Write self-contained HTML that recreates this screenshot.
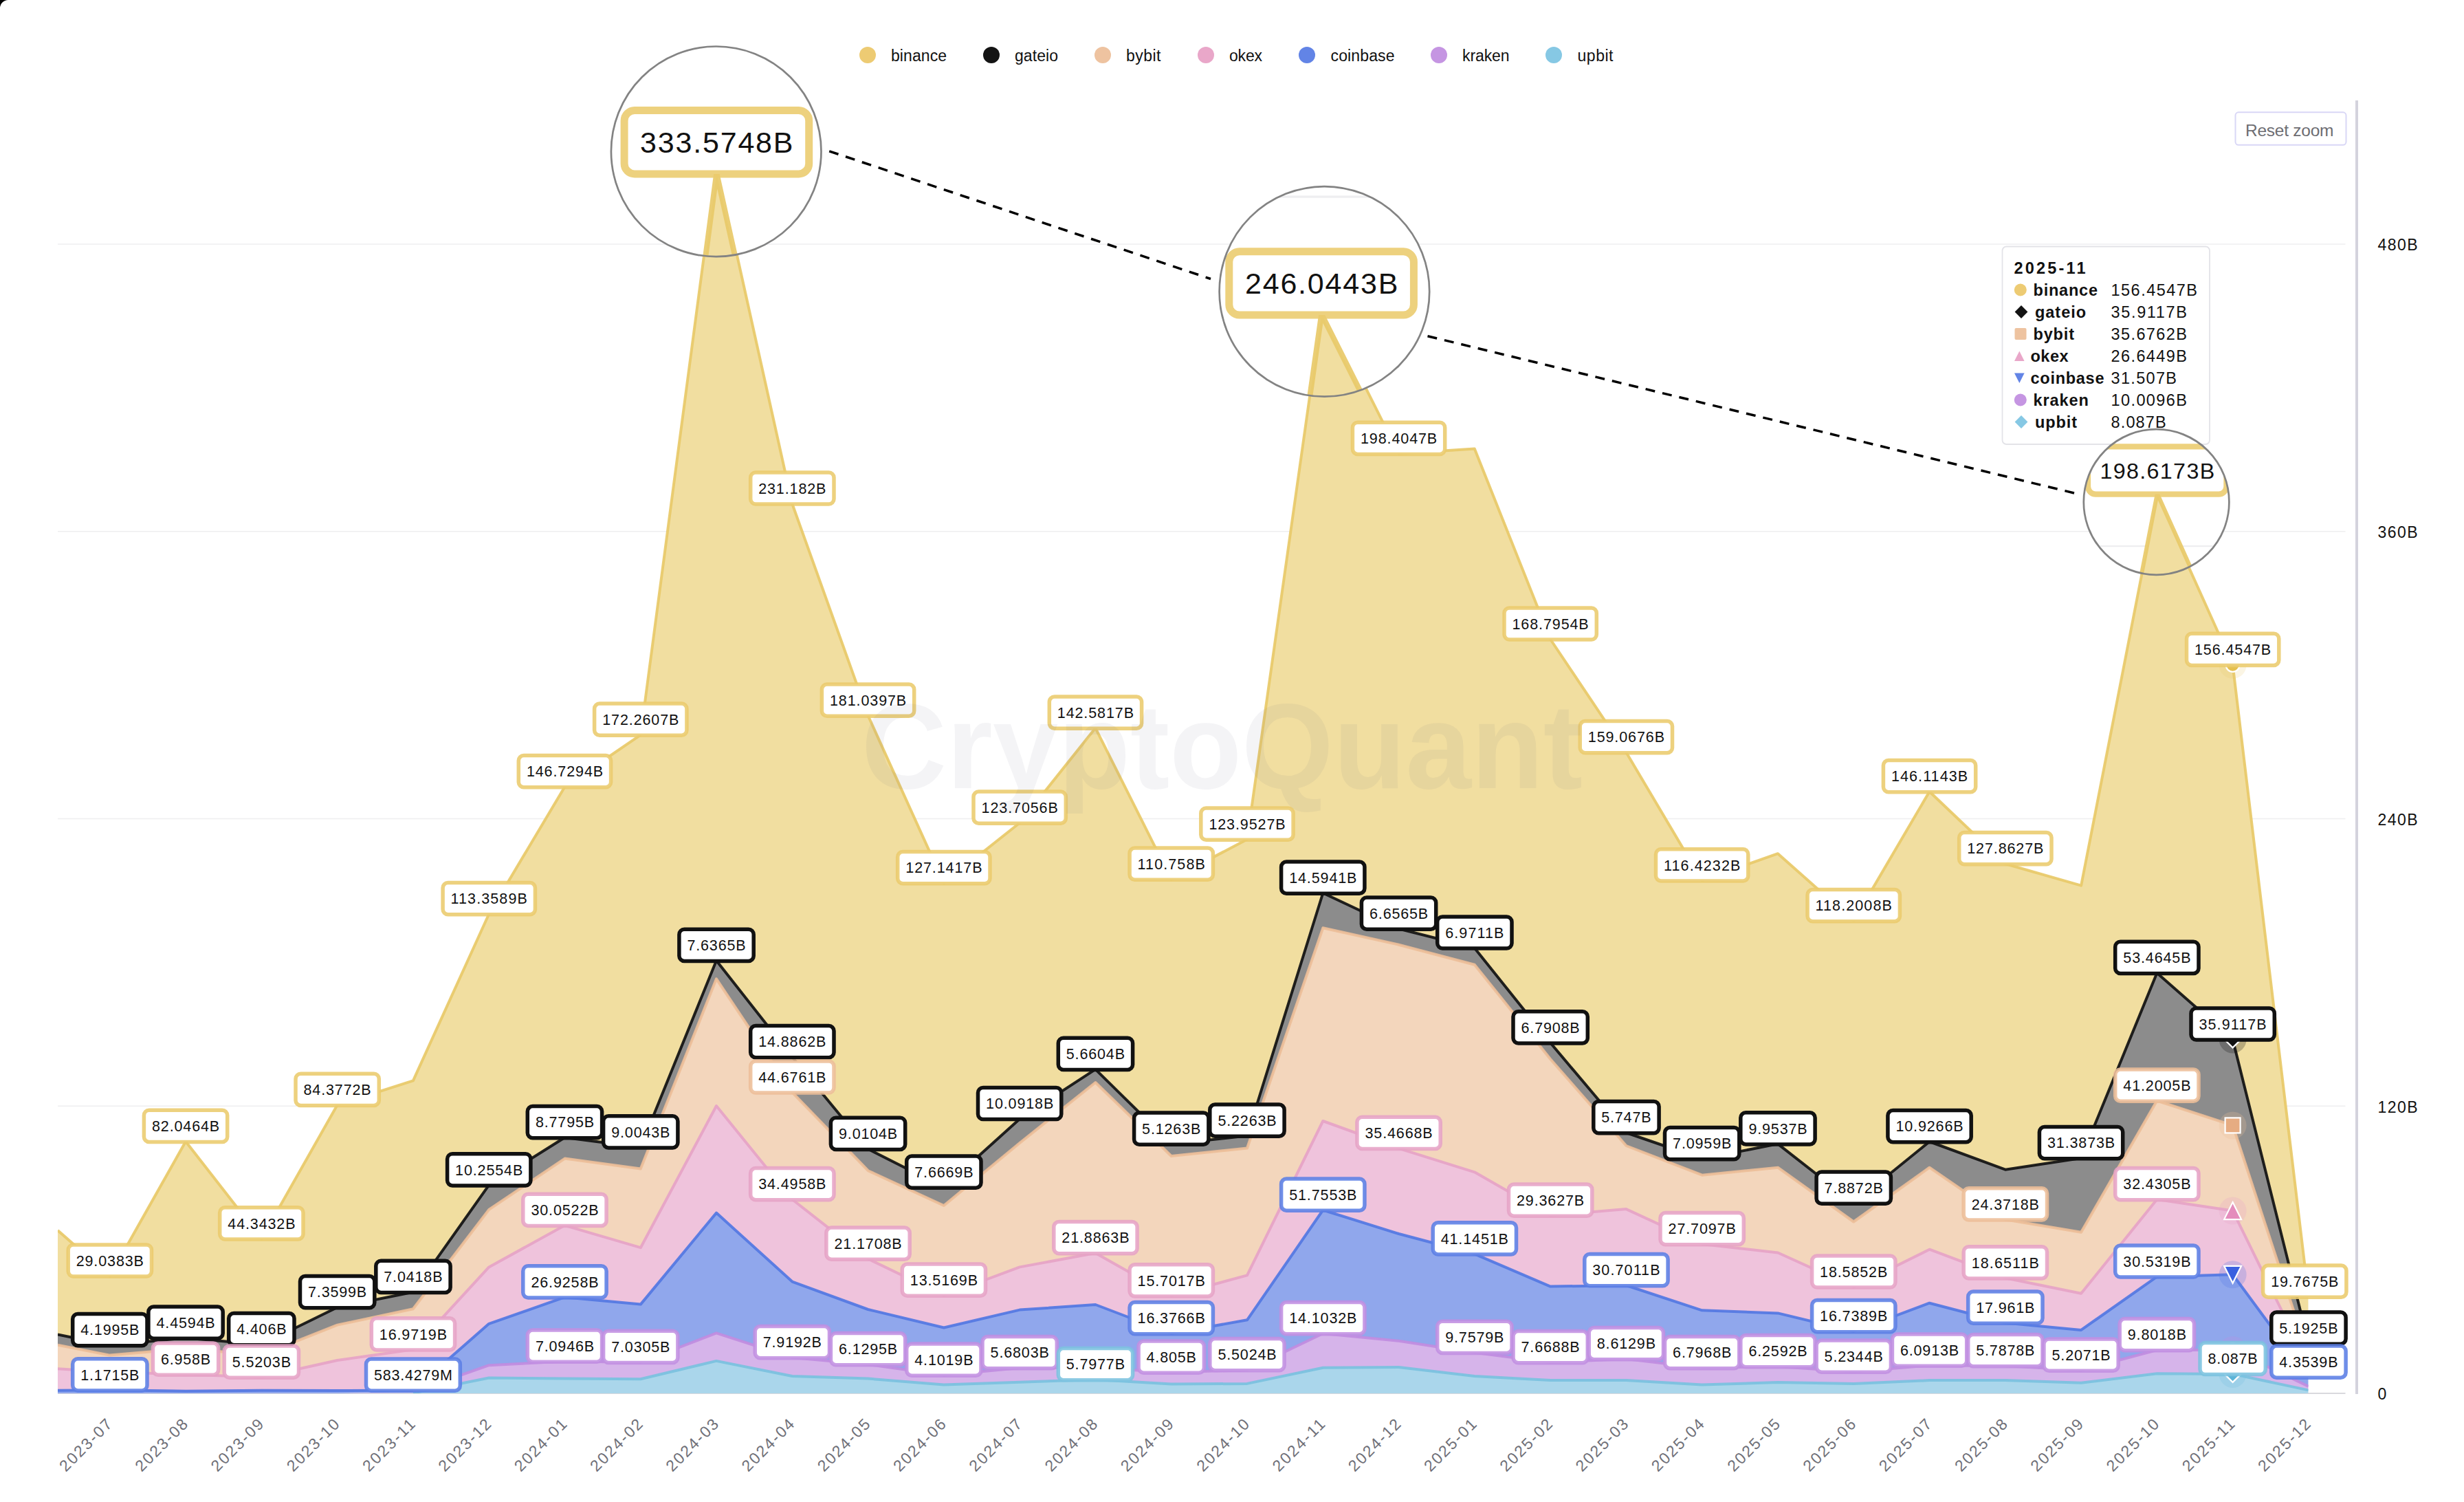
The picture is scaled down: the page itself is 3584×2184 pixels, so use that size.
<!DOCTYPE html>
<html lang="en"><head><meta charset="utf-8"><title>Exchange reserve chart</title>
<style>html,body{margin:0;padding:0;background:#fff}svg{display:block}text{font-family:"Liberation Sans",sans-serif}</style></head><body>
<svg width="3584" height="2184" viewBox="0 0 3584 2184">
<defs>
<clipPath id="plotclip"><rect x="84.0" y="100" width="3273.5" height="1926.0"/></clipPath>
<g id="chart">
<line x1="84.0" x2="3411.5" y1="355" y2="355" stroke="#eeeef0" stroke-width="1.6"/>
<line x1="84.0" x2="3411.5" y1="772.75" y2="772.75" stroke="#eeeef0" stroke-width="1.6"/>
<line x1="84.0" x2="3411.5" y1="1190.5" y2="1190.5" stroke="#eeeef0" stroke-width="1.6"/>
<line x1="84.0" x2="3411.5" y1="1608.25" y2="1608.25" stroke="#eeeef0" stroke-width="1.6"/>
<line x1="84.0" x2="3411.5" y1="2026.0" y2="2026.0" stroke="#d9d9de" stroke-width="2"/>
<g clip-path="url(#plotclip)">
<polygon fill="#F1DEA0" points="84,1789 159.8,1855.4 270.1,1659.8 380.4,1801.2 490.6,1606.7 600.9,1571.4 711.2,1329 821.5,1144 931.8,1068.6 1042,236 1152.3,732.5 1262.6,1040.5 1372.9,1284 1483.2,1196.5 1593.4,1058.6 1703.7,1278.5 1814,1220.5 1924.3,440.3 2034.6,659.8 2144.8,652.5 2255.1,929.5 2365.4,1094 2475.7,1280.2 2586,1241.2 2696.2,1339 2806.5,1151 2916.8,1256 3027.1,1287.7 3137.4,721.8 3247.6,966.8 3357.9,1885.5 3357.9,1953.5 3247.6,1511.4 3137.4,1414.7 3027.1,1684 2916.8,1700.7 2806.5,1660 2696.2,1749.5 2586,1663.3 2475.7,1685 2365.4,1647 2255.1,1516.3 2144.8,1378.4 2034.6,1350.5 1924.3,1298.5 1814,1651.5 1703.7,1663.5 1593.4,1554.8 1483.2,1626.9 1372.9,1726.5 1262.6,1670.8 1152.3,1537 1042,1396.7 931.8,1668.3 821.5,1654 711.2,1723.2 600.9,1878.8 490.6,1901 380.4,1955 270.1,1945.5 159.8,1956 84,1940.5"/>
<polyline fill="none" stroke="#E8C968" stroke-width="4" stroke-linejoin="round" stroke-opacity="0.92" points="84,1789 159.8,1855.4 270.1,1659.8 380.4,1801.2 490.6,1606.7 600.9,1571.4 711.2,1329 821.5,1144 931.8,1068.6 1042,236 1152.3,732.5 1262.6,1040.5 1372.9,1284 1483.2,1196.5 1593.4,1058.6 1703.7,1278.5 1814,1220.5 1924.3,440.3 2034.6,659.8 2144.8,652.5 2255.1,929.5 2365.4,1094 2475.7,1280.2 2586,1241.2 2696.2,1339 2806.5,1151 2916.8,1256 3027.1,1287.7 3137.4,721.8 3247.6,966.8 3357.9,1885.5"/>
<polygon fill="#8C8C8C" points="84,1940.5 159.8,1956 270.1,1945.5 380.4,1955 490.6,1901 600.9,1878.8 711.2,1723.2 821.5,1654 931.8,1668.3 1042,1396.7 1152.3,1537 1262.6,1670.8 1372.9,1726.5 1483.2,1626.9 1593.4,1554.8 1703.7,1663.5 1814,1651.5 1924.3,1298.5 2034.6,1350.5 2144.8,1378.4 2255.1,1516.3 2365.4,1647 2475.7,1685 2586,1663.3 2696.2,1749.5 2806.5,1660 2916.8,1700.7 3027.1,1684 3137.4,1414.7 3247.6,1511.4 3357.9,1953.5 3357.9,1971.5 3247.6,1636.4 3137.4,1600.5 3027.1,1791.8 2916.8,1773.3 2806.5,1697.7 2696.2,1776.5 2586,1697.7 2475.7,1708.7 2365.4,1666 2255.1,1540 2144.8,1402.7 2034.6,1373.7 1924.3,1349.3 1814,1669.5 1703.7,1681 1593.4,1574 1483.2,1662 1372.9,1753 1262.6,1702.2 1152.3,1588.4 1042,1423.3 931.8,1699.6 821.5,1684.6 711.2,1758.9 600.9,1903.3 490.6,1926.6 380.4,1970.3 270.1,1961 159.8,1970.6 84,1955.8"/>
<polyline fill="none" stroke="#101010" stroke-width="4" stroke-linejoin="round" stroke-opacity="0.92" points="84,1940.5 159.8,1956 270.1,1945.5 380.4,1955 490.6,1901 600.9,1878.8 711.2,1723.2 821.5,1654 931.8,1668.3 1042,1396.7 1152.3,1537 1262.6,1670.8 1372.9,1726.5 1483.2,1626.9 1593.4,1554.8 1703.7,1663.5 1814,1651.5 1924.3,1298.5 2034.6,1350.5 2144.8,1378.4 2255.1,1516.3 2365.4,1647 2475.7,1685 2586,1663.3 2696.2,1749.5 2806.5,1660 2916.8,1700.7 3027.1,1684 3137.4,1414.7 3247.6,1511.4 3357.9,1953.5"/>
<polygon fill="#F3D6BC" points="84,1955.8 159.8,1970.6 270.1,1961 380.4,1970.3 490.6,1926.6 600.9,1903.3 711.2,1758.9 821.5,1684.6 931.8,1699.6 1042,1423.3 1152.3,1588.4 1262.6,1702.2 1372.9,1753 1483.2,1662 1593.4,1574 1703.7,1681 1814,1669.5 1924.3,1349.3 2034.6,1373.7 2144.8,1402.7 2255.1,1540 2365.4,1666 2475.7,1708.7 2586,1697.7 2696.2,1776.5 2806.5,1697.7 2916.8,1773.3 3027.1,1791.8 3137.4,1600.5 3247.6,1636.4 3357.9,1971.5 3357.9,1985 3247.6,1760.6 3137.4,1744 3027.1,1880.8 2916.8,1858.2 2806.5,1816.7 2696.2,1871.4 2586,1821.5 2475.7,1809 2365.4,1758.1 2255.1,1767.5 2144.8,1704.3 2034.6,1669.8 1924.3,1630 1814,1854.4 1703.7,1884.3 1593.4,1822 1483.2,1842.4 1372.9,1883.5 1262.6,1830.5 1152.3,1744 1042,1608 931.8,1814.2 821.5,1781.8 711.2,1842.4 600.9,1962.3 490.6,1978 380.4,2002.5 270.1,1998.5 159.8,1995 84,1990.3"/>
<polyline fill="none" stroke="#EDBE98" stroke-width="4" stroke-linejoin="round" stroke-opacity="0.92" points="84,1955.8 159.8,1970.6 270.1,1961 380.4,1970.3 490.6,1926.6 600.9,1903.3 711.2,1758.9 821.5,1684.6 931.8,1699.6 1042,1423.3 1152.3,1588.4 1262.6,1702.2 1372.9,1753 1483.2,1662 1593.4,1574 1703.7,1681 1814,1669.5 1924.3,1349.3 2034.6,1373.7 2144.8,1402.7 2255.1,1540 2365.4,1666 2475.7,1708.7 2586,1697.7 2696.2,1776.5 2806.5,1697.7 2916.8,1773.3 3027.1,1791.8 3137.4,1600.5 3247.6,1636.4 3357.9,1971.5"/>
<polygon fill="#EFC3DC" points="84,1990.3 159.8,1995 270.1,1998.5 380.4,2002.5 490.6,1978 600.9,1962.3 711.2,1842.4 821.5,1781.8 931.8,1814.2 1042,1608 1152.3,1744 1262.6,1830.5 1372.9,1883.5 1483.2,1842.4 1593.4,1822 1703.7,1884.3 1814,1854.4 1924.3,1630 2034.6,1669.8 2144.8,1704.3 2255.1,1767.5 2365.4,1758.1 2475.7,1809 2586,1821.5 2696.2,1871.4 2806.5,1816.7 2916.8,1858.2 3027.1,1880.8 3137.4,1744 3247.6,1760.6 3357.9,1985 3357.9,2002.6 3247.6,1853.3 3137.4,1856.4 3027.1,1933.9 2916.8,1923.5 2806.5,1894.7 2696.2,1936 2586,1909.4 2475.7,1905.3 2365.4,1869 2255.1,1870.6 2144.8,1823.3 2034.6,1794 1924.3,1759.5 1814,1919.3 1703.7,1939 1593.4,1897 1483.2,1904.6 1372.9,1930.5 1262.6,1904 1152.3,1863.6 1042,1763.6 931.8,1896.6 821.5,1886.2 711.2,1924.8 600.9,2021.6 490.6,2022 380.4,2021.7 270.1,2022.7 159.8,2021.3 84,2021.8"/>
<polyline fill="none" stroke="#E6A3C6" stroke-width="4" stroke-linejoin="round" stroke-opacity="0.92" points="84,1990.3 159.8,1995 270.1,1998.5 380.4,2002.5 490.6,1978 600.9,1962.3 711.2,1842.4 821.5,1781.8 931.8,1814.2 1042,1608 1152.3,1744 1262.6,1830.5 1372.9,1883.5 1483.2,1842.4 1593.4,1822 1703.7,1884.3 1814,1854.4 1924.3,1630 2034.6,1669.8 2144.8,1704.3 2255.1,1767.5 2365.4,1758.1 2475.7,1809 2586,1821.5 2696.2,1871.4 2806.5,1816.7 2916.8,1858.2 3027.1,1880.8 3137.4,1744 3247.6,1760.6 3357.9,1985"/>
<polygon fill="#90A7EC" points="84,2021.8 159.8,2021.3 270.1,2022.7 380.4,2021.7 490.6,2022 600.9,2021.6 711.2,1924.8 821.5,1886.2 931.8,1896.6 1042,1763.6 1152.3,1863.6 1262.6,1904 1372.9,1930.5 1483.2,1904.6 1593.4,1897 1703.7,1939 1814,1919.3 1924.3,1759.5 2034.6,1794 2144.8,1823.3 2255.1,1870.6 2365.4,1869 2475.7,1905.3 2586,1909.4 2696.2,1936 2806.5,1894.7 2916.8,1923.5 3027.1,1933.9 3137.4,1856.4 3247.6,1853.3 3357.9,2002.6 3357.9,2016 3247.6,1963 3137.4,1963 3027.1,1992.5 2916.8,1986 2806.5,1985.5 2696.2,1994.5 2586,1987 2475.7,1989 2365.4,1976 2255.1,1981 2144.8,1966.8 2034.6,1949.7 1924.3,1939 1814,1992 1703.7,1995.5 1593.4,1988.8 1483.2,1989 1372.9,1999.5 1262.6,1984 1152.3,1974 1042,1938.3 931.8,1980.7 821.5,1979.6 711.2,1985.2 600.9,2024 490.6,2026 380.4,2026 270.1,2026 159.8,2026 84,2026"/>
<polyline fill="none" stroke="#5277E2" stroke-width="4" stroke-linejoin="round" stroke-opacity="0.92" points="84,2021.8 159.8,2021.3 270.1,2022.7 380.4,2021.7 490.6,2022 600.9,2021.6 711.2,1924.8 821.5,1886.2 931.8,1896.6 1042,1763.6 1152.3,1863.6 1262.6,1904 1372.9,1930.5 1483.2,1904.6 1593.4,1897 1703.7,1939 1814,1919.3 1924.3,1759.5 2034.6,1794 2144.8,1823.3 2255.1,1870.6 2365.4,1869 2475.7,1905.3 2586,1909.4 2696.2,1936 2806.5,1894.7 2916.8,1923.5 3027.1,1933.9 3137.4,1856.4 3247.6,1853.3 3357.9,2002.6"/>
<polygon fill="#D6B4EA" points="84,2026 159.8,2026 270.1,2026 380.4,2026 490.6,2026 600.9,2024 711.2,1985.2 821.5,1979.6 931.8,1980.7 1042,1938.3 1152.3,1974 1262.6,1984 1372.9,1999.5 1483.2,1989 1593.4,1988.8 1703.7,1995.5 1814,1992 1924.3,1939 2034.6,1949.7 2144.8,1966.8 2255.1,1981 2365.4,1976 2475.7,1989 2586,1987 2696.2,1994.5 2806.5,1985.5 2916.8,1986 3027.1,1992.5 3137.4,1963 3247.6,1963 3357.9,2016 3357.9,2021.4 3247.6,1997.9 3137.4,1997.3 3027.1,2010.8 2916.8,2007.1 2806.5,2007.1 2696.2,2011.9 2586,2010.1 2475.7,2013.4 2365.4,2007.1 2255.1,2007.1 2144.8,2000.9 2034.6,1988.1 1924.3,1988.8 1814,2011.9 1703.7,2012.6 1593.4,2006 1483.2,2009.7 1372.9,2013.4 1262.6,2004.6 1152.3,2001 1042,1978.9 931.8,2005.3 821.5,2004.4 711.2,2003.5 600.9,2025.6 490.6,2026 380.4,2026 270.1,2026 159.8,2026 84,2026"/>
<polyline fill="none" stroke="#C08CE0" stroke-width="4" stroke-linejoin="round" stroke-opacity="0.92" points="600.9,2024 711.2,1985.2 821.5,1979.6 931.8,1980.7 1042,1938.3 1152.3,1974 1262.6,1984 1372.9,1999.5 1483.2,1989 1593.4,1988.8 1703.7,1995.5 1814,1992 1924.3,1939 2034.6,1949.7 2144.8,1966.8 2255.1,1981 2365.4,1976 2475.7,1989 2586,1987 2696.2,1994.5 2806.5,1985.5 2916.8,1986 3027.1,1992.5 3137.4,1963 3247.6,1963 3357.9,2016"/>
<polygon fill="#AAD6EB" points="84,2026 159.8,2026 270.1,2026 380.4,2026 490.6,2026 600.9,2025.6 711.2,2003.5 821.5,2004.4 931.8,2005.3 1042,1978.9 1152.3,2001 1262.6,2004.6 1372.9,2013.4 1483.2,2009.7 1593.4,2006 1703.7,2012.6 1814,2011.9 1924.3,1988.8 2034.6,1988.1 2144.8,2000.9 2255.1,2007.1 2365.4,2007.1 2475.7,2013.4 2586,2010.1 2696.2,2011.9 2806.5,2007.1 2916.8,2007.1 3027.1,2010.8 3137.4,1997.3 3247.6,1997.9 3357.9,2021.4 3357.9,2026 3247.6,2026 3137.4,2026 3027.1,2026 2916.8,2026 2806.5,2026 2696.2,2026 2586,2026 2475.7,2026 2365.4,2026 2255.1,2026 2144.8,2026 2034.6,2026 1924.3,2026 1814,2026 1703.7,2026 1593.4,2026 1483.2,2026 1372.9,2026 1262.6,2026 1152.3,2026 1042,2026 931.8,2026 821.5,2026 711.2,2026 600.9,2026 490.6,2026 380.4,2026 270.1,2026 159.8,2026 84,2026"/>
<polyline fill="none" stroke="#79C1DE" stroke-width="4" stroke-linejoin="round" stroke-opacity="0.92" points="600.9,2025.6 711.2,2003.5 821.5,2004.4 931.8,2005.3 1042,1978.9 1152.3,2001 1262.6,2004.6 1372.9,2013.4 1483.2,2009.7 1593.4,2006 1703.7,2012.6 1814,2011.9 1924.3,1988.8 2034.6,1988.1 2144.8,2000.9 2255.1,2007.1 2365.4,2007.1 2475.7,2013.4 2586,2010.1 2696.2,2011.9 2806.5,2007.1 2916.8,2007.1 3027.1,2010.8 3137.4,1997.3 3247.6,1997.9 3357.9,2021.4"/>
</g>
<circle cx="3247.6" cy="966.8" r="20" fill="#E8C968" fill-opacity="0.18"/>
<circle cx="3247.6" cy="966.8" r="10" fill="#E5C050" stroke="#fff" stroke-width="2.2" stroke-linejoin="miter"/>
<circle cx="3247.6" cy="1511.4" r="20" fill="#101010" fill-opacity="0.25"/>
<path d="M3247.6,1499.4 L3259.6,1511.4 L3247.6,1523.4 L3235.6,1511.4 Z" fill="#111111" stroke="#fff" stroke-width="2.2" stroke-linejoin="miter"/>
<circle cx="3247.6" cy="1636.4" r="20" fill="#EDBE98" fill-opacity="0.25"/>
<rect x="3236.6" y="1625.4" width="22" height="22" fill="#E6AC82" stroke="#fff" stroke-width="2.2" stroke-linejoin="miter"/>
<circle cx="3247.6" cy="1760.6" r="20" fill="#E6A3C6" fill-opacity="0.25"/>
<path d="M3247.6,1748.1 L3260.1,1773.1 L3235.1,1773.1 Z" fill="#E48CBC" stroke="#fff" stroke-width="2.2" stroke-linejoin="miter"/>
<circle cx="3247.6" cy="1853.3" r="20" fill="#5277E2" fill-opacity="0.25"/>
<path d="M3235.1,1840.8 L3260.1,1840.8 L3247.6,1865.8 Z" fill="#3A60E0" stroke="#fff" stroke-width="2.2" stroke-linejoin="miter"/>
<circle cx="3247.6" cy="1963" r="20" fill="#C08CE0" fill-opacity="0.25"/>
<circle cx="3247.6" cy="1963" r="10" fill="#B678DC" stroke="#fff" stroke-width="2.2" stroke-linejoin="miter"/>
<circle cx="3247.6" cy="1997.9" r="20" fill="#79C1DE" fill-opacity="0.25"/>
<path d="M3247.6,1985.9 L3259.6,1997.9 L3247.6,2009.9 L3235.6,1997.9 Z" fill="#5CB4D8" stroke="#fff" stroke-width="2.2" stroke-linejoin="miter"/>
<rect x="99.2" y="1809.9" width="121.3" height="46.2" rx="7.5" fill="#fff" stroke="#EACB6C" stroke-width="5.5" stroke-opacity="0.88"/>
<text x="110.7" y="1840.8" font-size="21.5" fill="#111" textLength="98.2" lengthAdjust="spacing">29.0383B</text>
<rect x="209.4" y="1614.2" width="121.3" height="46.2" rx="7.5" fill="#fff" stroke="#EACB6C" stroke-width="5.5" stroke-opacity="0.88"/>
<text x="221" y="1645.2" font-size="21.5" fill="#111" textLength="98.2" lengthAdjust="spacing">82.0464B</text>
<rect x="319.7" y="1755.7" width="121.3" height="46.2" rx="7.5" fill="#fff" stroke="#EACB6C" stroke-width="5.5" stroke-opacity="0.88"/>
<text x="331.3" y="1786.6" font-size="21.5" fill="#111" textLength="98.2" lengthAdjust="spacing">44.3432B</text>
<rect x="430" y="1561.2" width="121.3" height="46.2" rx="7.5" fill="#fff" stroke="#EACB6C" stroke-width="5.5" stroke-opacity="0.88"/>
<text x="441.5" y="1592.1" font-size="21.5" fill="#111" textLength="98.2" lengthAdjust="spacing">84.3772B</text>
<rect x="644.1" y="1283.5" width="134.3" height="46.2" rx="7.5" fill="#fff" stroke="#EACB6C" stroke-width="5.5" stroke-opacity="0.88"/>
<text x="655.6" y="1314.4" font-size="21.5" fill="#111" textLength="111.2" lengthAdjust="spacing">113.3589B</text>
<rect x="754.3" y="1098.5" width="134.3" height="46.2" rx="7.5" fill="#fff" stroke="#EACB6C" stroke-width="5.5" stroke-opacity="0.88"/>
<text x="765.9" y="1129.4" font-size="21.5" fill="#111" textLength="111.2" lengthAdjust="spacing">146.7294B</text>
<rect x="864.6" y="1023" width="134.3" height="46.2" rx="7.5" fill="#fff" stroke="#EACB6C" stroke-width="5.5" stroke-opacity="0.88"/>
<text x="876.2" y="1054" font-size="21.5" fill="#111" textLength="111.2" lengthAdjust="spacing">172.2607B</text>
<rect x="974.9" y="190.4" width="134.3" height="46.2" rx="7.5" fill="#fff" stroke="#EACB6C" stroke-width="5.5" stroke-opacity="0.88"/>
<text x="986.4" y="221.4" font-size="21.5" fill="#111" textLength="111.2" lengthAdjust="spacing">333.5748B</text>
<rect x="1091.7" y="686.9" width="121.3" height="46.2" rx="7.5" fill="#fff" stroke="#EACB6C" stroke-width="5.5" stroke-opacity="0.88"/>
<text x="1103.2" y="717.9" font-size="21.5" fill="#111" textLength="98.2" lengthAdjust="spacing">231.182B</text>
<rect x="1195.4" y="995" width="134.3" height="46.2" rx="7.5" fill="#fff" stroke="#EACB6C" stroke-width="5.5" stroke-opacity="0.88"/>
<text x="1207" y="1025.9" font-size="21.5" fill="#111" textLength="111.2" lengthAdjust="spacing">181.0397B</text>
<rect x="1305.7" y="1238.5" width="134.3" height="46.2" rx="7.5" fill="#fff" stroke="#EACB6C" stroke-width="5.5" stroke-opacity="0.88"/>
<text x="1317.3" y="1269.4" font-size="21.5" fill="#111" textLength="111.2" lengthAdjust="spacing">127.1417B</text>
<rect x="1416" y="1151" width="134.3" height="46.2" rx="7.5" fill="#fff" stroke="#EACB6C" stroke-width="5.5" stroke-opacity="0.88"/>
<text x="1427.6" y="1181.9" font-size="21.5" fill="#111" textLength="111.2" lengthAdjust="spacing">123.7056B</text>
<rect x="1526.3" y="1013" width="134.3" height="46.2" rx="7.5" fill="#fff" stroke="#EACB6C" stroke-width="5.5" stroke-opacity="0.88"/>
<text x="1537.8" y="1044" font-size="21.5" fill="#111" textLength="111.2" lengthAdjust="spacing">142.5817B</text>
<rect x="1643.1" y="1233" width="121.3" height="46.2" rx="7.5" fill="#fff" stroke="#EACB6C" stroke-width="5.5" stroke-opacity="0.88"/>
<text x="1654.6" y="1263.9" font-size="21.5" fill="#111" textLength="98.2" lengthAdjust="spacing">110.758B</text>
<rect x="1746.8" y="1175" width="134.3" height="46.2" rx="7.5" fill="#fff" stroke="#EACB6C" stroke-width="5.5" stroke-opacity="0.88"/>
<text x="1758.4" y="1205.9" font-size="21.5" fill="#111" textLength="111.2" lengthAdjust="spacing">123.9527B</text>
<rect x="1857.1" y="394.8" width="134.3" height="46.2" rx="7.5" fill="#fff" stroke="#EACB6C" stroke-width="5.5" stroke-opacity="0.88"/>
<text x="1868.7" y="425.7" font-size="21.5" fill="#111" textLength="111.2" lengthAdjust="spacing">246.0443B</text>
<rect x="1967.4" y="614.2" width="134.3" height="46.2" rx="7.5" fill="#fff" stroke="#EACB6C" stroke-width="5.5" stroke-opacity="0.88"/>
<text x="1979" y="645.2" font-size="21.5" fill="#111" textLength="111.2" lengthAdjust="spacing">198.4047B</text>
<rect x="2188" y="883.9" width="134.3" height="46.2" rx="7.5" fill="#fff" stroke="#EACB6C" stroke-width="5.5" stroke-opacity="0.88"/>
<text x="2199.5" y="914.9" font-size="21.5" fill="#111" textLength="111.2" lengthAdjust="spacing">168.7954B</text>
<rect x="2298.2" y="1048.5" width="134.3" height="46.2" rx="7.5" fill="#fff" stroke="#EACB6C" stroke-width="5.5" stroke-opacity="0.88"/>
<text x="2309.8" y="1079.4" font-size="21.5" fill="#111" textLength="111.2" lengthAdjust="spacing">159.0676B</text>
<rect x="2408.5" y="1234.7" width="134.3" height="46.2" rx="7.5" fill="#fff" stroke="#EACB6C" stroke-width="5.5" stroke-opacity="0.88"/>
<text x="2420.1" y="1265.6" font-size="21.5" fill="#111" textLength="111.2" lengthAdjust="spacing">116.4232B</text>
<rect x="2629.1" y="1293.5" width="134.3" height="46.2" rx="7.5" fill="#fff" stroke="#EACB6C" stroke-width="5.5" stroke-opacity="0.88"/>
<text x="2640.6" y="1324.4" font-size="21.5" fill="#111" textLength="111.2" lengthAdjust="spacing">118.2008B</text>
<rect x="2739.4" y="1105.5" width="134.3" height="46.2" rx="7.5" fill="#fff" stroke="#EACB6C" stroke-width="5.5" stroke-opacity="0.88"/>
<text x="2750.9" y="1136.4" font-size="21.5" fill="#111" textLength="111.2" lengthAdjust="spacing">146.1143B</text>
<rect x="2849.7" y="1210.5" width="134.3" height="46.2" rx="7.5" fill="#fff" stroke="#EACB6C" stroke-width="5.5" stroke-opacity="0.88"/>
<text x="2861.2" y="1241.4" font-size="21.5" fill="#111" textLength="111.2" lengthAdjust="spacing">127.8627B</text>
<rect x="3070.2" y="676.2" width="134.3" height="46.2" rx="7.5" fill="#fff" stroke="#EACB6C" stroke-width="5.5" stroke-opacity="0.88"/>
<text x="3081.8" y="707.2" font-size="21.5" fill="#111" textLength="111.2" lengthAdjust="spacing">198.6173B</text>
<rect x="3180.5" y="921.2" width="134.3" height="46.2" rx="7.5" fill="#fff" stroke="#EACB6C" stroke-width="5.5" stroke-opacity="0.88"/>
<text x="3192" y="952.2" font-size="21.5" fill="#111" textLength="111.2" lengthAdjust="spacing">156.4547B</text>
<rect x="3291.6" y="1840" width="121.3" height="46.2" rx="7.5" fill="#fff" stroke="#EACB6C" stroke-width="5.5" stroke-opacity="0.88"/>
<text x="3303.2" y="1870.9" font-size="21.5" fill="#111" textLength="98.2" lengthAdjust="spacing">19.7675B</text>
<rect x="105.7" y="1910.5" width="108.3" height="46.2" rx="7.5" fill="#fff" stroke="#111111" stroke-width="5.5" stroke-opacity="1"/>
<text x="117.2" y="1941.4" font-size="21.5" fill="#111" textLength="85.2" lengthAdjust="spacing">4.1995B</text>
<rect x="215.9" y="1900" width="108.3" height="46.2" rx="7.5" fill="#fff" stroke="#111111" stroke-width="5.5" stroke-opacity="1"/>
<text x="227.5" y="1930.9" font-size="21.5" fill="#111" textLength="85.2" lengthAdjust="spacing">4.4594B</text>
<rect x="332.7" y="1909.5" width="95.3" height="46.2" rx="7.5" fill="#fff" stroke="#111111" stroke-width="5.5" stroke-opacity="1"/>
<text x="344.3" y="1940.4" font-size="21.5" fill="#111" textLength="72.2" lengthAdjust="spacing">4.406B</text>
<rect x="436.5" y="1855.5" width="108.3" height="46.2" rx="7.5" fill="#fff" stroke="#111111" stroke-width="5.5" stroke-opacity="1"/>
<text x="448" y="1886.4" font-size="21.5" fill="#111" textLength="85.2" lengthAdjust="spacing">7.3599B</text>
<rect x="546.8" y="1833.2" width="108.3" height="46.2" rx="7.5" fill="#fff" stroke="#111111" stroke-width="5.5" stroke-opacity="1"/>
<text x="558.3" y="1864.2" font-size="21.5" fill="#111" textLength="85.2" lengthAdjust="spacing">7.0418B</text>
<rect x="650.6" y="1677.7" width="121.3" height="46.2" rx="7.5" fill="#fff" stroke="#111111" stroke-width="5.5" stroke-opacity="1"/>
<text x="662.1" y="1708.6" font-size="21.5" fill="#111" textLength="98.2" lengthAdjust="spacing">10.2554B</text>
<rect x="767.3" y="1608.5" width="108.3" height="46.2" rx="7.5" fill="#fff" stroke="#111111" stroke-width="5.5" stroke-opacity="1"/>
<text x="778.9" y="1639.4" font-size="21.5" fill="#111" textLength="85.2" lengthAdjust="spacing">8.7795B</text>
<rect x="877.6" y="1622.8" width="108.3" height="46.2" rx="7.5" fill="#fff" stroke="#111111" stroke-width="5.5" stroke-opacity="1"/>
<text x="889.2" y="1653.7" font-size="21.5" fill="#111" textLength="85.2" lengthAdjust="spacing">9.0043B</text>
<rect x="987.9" y="1351.2" width="108.3" height="46.2" rx="7.5" fill="#fff" stroke="#111111" stroke-width="5.5" stroke-opacity="1"/>
<text x="999.4" y="1382.1" font-size="21.5" fill="#111" textLength="85.2" lengthAdjust="spacing">7.6365B</text>
<rect x="1091.7" y="1491.5" width="121.3" height="46.2" rx="7.5" fill="#fff" stroke="#111111" stroke-width="5.5" stroke-opacity="1"/>
<text x="1103.2" y="1522.4" font-size="21.5" fill="#111" textLength="98.2" lengthAdjust="spacing">14.8862B</text>
<rect x="1208.4" y="1625.2" width="108.3" height="46.2" rx="7.5" fill="#fff" stroke="#111111" stroke-width="5.5" stroke-opacity="1"/>
<text x="1220" y="1656.2" font-size="21.5" fill="#111" textLength="85.2" lengthAdjust="spacing">9.0104B</text>
<rect x="1318.7" y="1681" width="108.3" height="46.2" rx="7.5" fill="#fff" stroke="#111111" stroke-width="5.5" stroke-opacity="1"/>
<text x="1330.3" y="1711.9" font-size="21.5" fill="#111" textLength="85.2" lengthAdjust="spacing">7.6669B</text>
<rect x="1422.5" y="1581.4" width="121.3" height="46.2" rx="7.5" fill="#fff" stroke="#111111" stroke-width="5.5" stroke-opacity="1"/>
<text x="1434.1" y="1612.3" font-size="21.5" fill="#111" textLength="98.2" lengthAdjust="spacing">10.0918B</text>
<rect x="1539.3" y="1509.2" width="108.3" height="46.2" rx="7.5" fill="#fff" stroke="#111111" stroke-width="5.5" stroke-opacity="1"/>
<text x="1550.8" y="1540.2" font-size="21.5" fill="#111" textLength="85.2" lengthAdjust="spacing">5.6604B</text>
<rect x="1649.6" y="1618" width="108.3" height="46.2" rx="7.5" fill="#fff" stroke="#111111" stroke-width="5.5" stroke-opacity="1"/>
<text x="1661.1" y="1648.9" font-size="21.5" fill="#111" textLength="85.2" lengthAdjust="spacing">5.1263B</text>
<rect x="1759.8" y="1606" width="108.3" height="46.2" rx="7.5" fill="#fff" stroke="#111111" stroke-width="5.5" stroke-opacity="1"/>
<text x="1771.4" y="1636.9" font-size="21.5" fill="#111" textLength="85.2" lengthAdjust="spacing">5.2263B</text>
<rect x="1863.6" y="1253" width="121.3" height="46.2" rx="7.5" fill="#fff" stroke="#111111" stroke-width="5.5" stroke-opacity="1"/>
<text x="1875.2" y="1283.9" font-size="21.5" fill="#111" textLength="98.2" lengthAdjust="spacing">14.5941B</text>
<rect x="1980.4" y="1305" width="108.3" height="46.2" rx="7.5" fill="#fff" stroke="#111111" stroke-width="5.5" stroke-opacity="1"/>
<text x="1992" y="1335.9" font-size="21.5" fill="#111" textLength="85.2" lengthAdjust="spacing">6.6565B</text>
<rect x="2090.7" y="1332.9" width="108.3" height="46.2" rx="7.5" fill="#fff" stroke="#111111" stroke-width="5.5" stroke-opacity="1"/>
<text x="2102.2" y="1363.8" font-size="21.5" fill="#111" textLength="85.2" lengthAdjust="spacing">6.9711B</text>
<rect x="2201" y="1470.8" width="108.3" height="46.2" rx="7.5" fill="#fff" stroke="#111111" stroke-width="5.5" stroke-opacity="1"/>
<text x="2212.5" y="1501.7" font-size="21.5" fill="#111" textLength="85.2" lengthAdjust="spacing">6.7908B</text>
<rect x="2317.8" y="1601.5" width="95.3" height="46.2" rx="7.5" fill="#fff" stroke="#111111" stroke-width="5.5" stroke-opacity="1"/>
<text x="2329.3" y="1632.4" font-size="21.5" fill="#111" textLength="72.2" lengthAdjust="spacing">5.747B</text>
<rect x="2421.5" y="1639.5" width="108.3" height="46.2" rx="7.5" fill="#fff" stroke="#111111" stroke-width="5.5" stroke-opacity="1"/>
<text x="2433.1" y="1670.4" font-size="21.5" fill="#111" textLength="85.2" lengthAdjust="spacing">7.0959B</text>
<rect x="2531.8" y="1617.8" width="108.3" height="46.2" rx="7.5" fill="#fff" stroke="#111111" stroke-width="5.5" stroke-opacity="1"/>
<text x="2543.4" y="1648.7" font-size="21.5" fill="#111" textLength="85.2" lengthAdjust="spacing">9.9537B</text>
<rect x="2642.1" y="1704" width="108.3" height="46.2" rx="7.5" fill="#fff" stroke="#111111" stroke-width="5.5" stroke-opacity="1"/>
<text x="2653.6" y="1734.9" font-size="21.5" fill="#111" textLength="85.2" lengthAdjust="spacing">7.8872B</text>
<rect x="2745.9" y="1614.5" width="121.3" height="46.2" rx="7.5" fill="#fff" stroke="#111111" stroke-width="5.5" stroke-opacity="1"/>
<text x="2757.4" y="1645.4" font-size="21.5" fill="#111" textLength="98.2" lengthAdjust="spacing">10.9266B</text>
<rect x="2966.4" y="1638.5" width="121.3" height="46.2" rx="7.5" fill="#fff" stroke="#111111" stroke-width="5.5" stroke-opacity="1"/>
<text x="2978" y="1669.4" font-size="21.5" fill="#111" textLength="98.2" lengthAdjust="spacing">31.3873B</text>
<rect x="3076.7" y="1369.2" width="121.3" height="46.2" rx="7.5" fill="#fff" stroke="#111111" stroke-width="5.5" stroke-opacity="1"/>
<text x="3088.3" y="1400.1" font-size="21.5" fill="#111" textLength="98.2" lengthAdjust="spacing">53.4645B</text>
<rect x="3187" y="1465.9" width="121.3" height="46.2" rx="7.5" fill="#fff" stroke="#111111" stroke-width="5.5" stroke-opacity="1"/>
<text x="3198.5" y="1496.8" font-size="21.5" fill="#111" textLength="98.2" lengthAdjust="spacing">35.9117B</text>
<rect x="3303.8" y="1908" width="108.3" height="46.2" rx="7.5" fill="#fff" stroke="#111111" stroke-width="5.5" stroke-opacity="1"/>
<text x="3315.3" y="1938.9" font-size="21.5" fill="#111" textLength="85.2" lengthAdjust="spacing">5.1925B</text>
<rect x="1091.7" y="1542.9" width="121.3" height="46.2" rx="7.5" fill="#fff" stroke="#EDBE98" stroke-width="5.5" stroke-opacity="0.88"/>
<text x="1103.2" y="1573.8" font-size="21.5" fill="#111" textLength="98.2" lengthAdjust="spacing">44.6761B</text>
<rect x="2856.2" y="1727.8" width="121.3" height="46.2" rx="7.5" fill="#fff" stroke="#EDBE98" stroke-width="5.5" stroke-opacity="0.88"/>
<text x="2867.7" y="1758.7" font-size="21.5" fill="#111" textLength="98.2" lengthAdjust="spacing">24.3718B</text>
<rect x="3076.7" y="1555" width="121.3" height="46.2" rx="7.5" fill="#fff" stroke="#EDBE98" stroke-width="5.5" stroke-opacity="0.88"/>
<text x="3088.3" y="1585.9" font-size="21.5" fill="#111" textLength="98.2" lengthAdjust="spacing">41.2005B</text>
<rect x="222.4" y="1953" width="95.3" height="46.2" rx="7.5" fill="#fff" stroke="#E6A3C6" stroke-width="5.5" stroke-opacity="0.88"/>
<text x="234" y="1983.9" font-size="21.5" fill="#111" textLength="72.2" lengthAdjust="spacing">6.958B</text>
<rect x="326.2" y="1957" width="108.3" height="46.2" rx="7.5" fill="#fff" stroke="#E6A3C6" stroke-width="5.5" stroke-opacity="0.88"/>
<text x="337.8" y="1987.9" font-size="21.5" fill="#111" textLength="85.2" lengthAdjust="spacing">5.5203B</text>
<rect x="540.3" y="1916.8" width="121.3" height="46.2" rx="7.5" fill="#fff" stroke="#E6A3C6" stroke-width="5.5" stroke-opacity="0.88"/>
<text x="551.8" y="1947.7" font-size="21.5" fill="#111" textLength="98.2" lengthAdjust="spacing">16.9719B</text>
<rect x="760.8" y="1736.2" width="121.3" height="46.2" rx="7.5" fill="#fff" stroke="#E6A3C6" stroke-width="5.5" stroke-opacity="0.88"/>
<text x="772.4" y="1767.2" font-size="21.5" fill="#111" textLength="98.2" lengthAdjust="spacing">30.0522B</text>
<rect x="1091.7" y="1698.5" width="121.3" height="46.2" rx="7.5" fill="#fff" stroke="#E6A3C6" stroke-width="5.5" stroke-opacity="0.88"/>
<text x="1103.2" y="1729.4" font-size="21.5" fill="#111" textLength="98.2" lengthAdjust="spacing">34.4958B</text>
<rect x="1201.9" y="1785" width="121.3" height="46.2" rx="7.5" fill="#fff" stroke="#E6A3C6" stroke-width="5.5" stroke-opacity="0.88"/>
<text x="1213.5" y="1815.9" font-size="21.5" fill="#111" textLength="98.2" lengthAdjust="spacing">21.1708B</text>
<rect x="1312.2" y="1838" width="121.3" height="46.2" rx="7.5" fill="#fff" stroke="#E6A3C6" stroke-width="5.5" stroke-opacity="0.88"/>
<text x="1323.8" y="1868.9" font-size="21.5" fill="#111" textLength="98.2" lengthAdjust="spacing">13.5169B</text>
<rect x="1532.8" y="1776.5" width="121.3" height="46.2" rx="7.5" fill="#fff" stroke="#E6A3C6" stroke-width="5.5" stroke-opacity="0.88"/>
<text x="1544.3" y="1807.4" font-size="21.5" fill="#111" textLength="98.2" lengthAdjust="spacing">21.8863B</text>
<rect x="1643.1" y="1838.8" width="121.3" height="46.2" rx="7.5" fill="#fff" stroke="#E6A3C6" stroke-width="5.5" stroke-opacity="0.88"/>
<text x="1654.6" y="1869.7" font-size="21.5" fill="#111" textLength="98.2" lengthAdjust="spacing">15.7017B</text>
<rect x="1973.9" y="1624.2" width="121.3" height="46.2" rx="7.5" fill="#fff" stroke="#E6A3C6" stroke-width="5.5" stroke-opacity="0.88"/>
<text x="1985.5" y="1655.2" font-size="21.5" fill="#111" textLength="98.2" lengthAdjust="spacing">35.4668B</text>
<rect x="2194.5" y="1722" width="121.3" height="46.2" rx="7.5" fill="#fff" stroke="#E6A3C6" stroke-width="5.5" stroke-opacity="0.88"/>
<text x="2206" y="1752.9" font-size="21.5" fill="#111" textLength="98.2" lengthAdjust="spacing">29.3627B</text>
<rect x="2415" y="1763.5" width="121.3" height="46.2" rx="7.5" fill="#fff" stroke="#E6A3C6" stroke-width="5.5" stroke-opacity="0.88"/>
<text x="2426.6" y="1794.4" font-size="21.5" fill="#111" textLength="98.2" lengthAdjust="spacing">27.7097B</text>
<rect x="2635.6" y="1825.9" width="121.3" height="46.2" rx="7.5" fill="#fff" stroke="#E6A3C6" stroke-width="5.5" stroke-opacity="0.88"/>
<text x="2647.1" y="1856.8" font-size="21.5" fill="#111" textLength="98.2" lengthAdjust="spacing">18.5852B</text>
<rect x="2856.2" y="1812.7" width="121.3" height="46.2" rx="7.5" fill="#fff" stroke="#E6A3C6" stroke-width="5.5" stroke-opacity="0.88"/>
<text x="2867.7" y="1843.6" font-size="21.5" fill="#111" textLength="98.2" lengthAdjust="spacing">18.6511B</text>
<rect x="3076.7" y="1698.5" width="121.3" height="46.2" rx="7.5" fill="#fff" stroke="#E6A3C6" stroke-width="5.5" stroke-opacity="0.88"/>
<text x="3088.3" y="1729.4" font-size="21.5" fill="#111" textLength="98.2" lengthAdjust="spacing">32.4305B</text>
<rect x="105.7" y="1975.8" width="108.3" height="46.2" rx="7.5" fill="#fff" stroke="#5B7EE5" stroke-width="5.5" stroke-opacity="0.88"/>
<text x="117.2" y="2006.7" font-size="21.5" fill="#111" textLength="85.2" lengthAdjust="spacing">1.1715B</text>
<rect x="532.5" y="1976" width="136.8" height="46.2" rx="7.5" fill="#fff" stroke="#5B7EE5" stroke-width="5.5" stroke-opacity="0.88"/>
<text x="544.1" y="2007" font-size="21.5" fill="#111" textLength="113.7" lengthAdjust="spacing">583.4279M</text>
<rect x="760.8" y="1840.7" width="121.3" height="46.2" rx="7.5" fill="#fff" stroke="#5B7EE5" stroke-width="5.5" stroke-opacity="0.88"/>
<text x="772.4" y="1871.6" font-size="21.5" fill="#111" textLength="98.2" lengthAdjust="spacing">26.9258B</text>
<rect x="1643.1" y="1893.5" width="121.3" height="46.2" rx="7.5" fill="#fff" stroke="#5B7EE5" stroke-width="5.5" stroke-opacity="0.88"/>
<text x="1654.6" y="1924.4" font-size="21.5" fill="#111" textLength="98.2" lengthAdjust="spacing">16.3766B</text>
<rect x="1863.6" y="1714" width="121.3" height="46.2" rx="7.5" fill="#fff" stroke="#5B7EE5" stroke-width="5.5" stroke-opacity="0.88"/>
<text x="1875.2" y="1744.9" font-size="21.5" fill="#111" textLength="98.2" lengthAdjust="spacing">51.7553B</text>
<rect x="2084.2" y="1777.8" width="121.3" height="46.2" rx="7.5" fill="#fff" stroke="#5B7EE5" stroke-width="5.5" stroke-opacity="0.88"/>
<text x="2095.7" y="1808.7" font-size="21.5" fill="#111" textLength="98.2" lengthAdjust="spacing">41.1451B</text>
<rect x="2304.8" y="1823.5" width="121.3" height="46.2" rx="7.5" fill="#fff" stroke="#5B7EE5" stroke-width="5.5" stroke-opacity="0.88"/>
<text x="2316.3" y="1854.4" font-size="21.5" fill="#111" textLength="98.2" lengthAdjust="spacing">30.7011B</text>
<rect x="2635.6" y="1890.5" width="121.3" height="46.2" rx="7.5" fill="#fff" stroke="#5B7EE5" stroke-width="5.5" stroke-opacity="0.88"/>
<text x="2647.1" y="1921.4" font-size="21.5" fill="#111" textLength="98.2" lengthAdjust="spacing">16.7389B</text>
<rect x="2862.7" y="1878" width="108.3" height="46.2" rx="7.5" fill="#fff" stroke="#5B7EE5" stroke-width="5.5" stroke-opacity="0.88"/>
<text x="2874.2" y="1908.9" font-size="21.5" fill="#111" textLength="85.2" lengthAdjust="spacing">17.961B</text>
<rect x="3076.7" y="1810.9" width="121.3" height="46.2" rx="7.5" fill="#fff" stroke="#5B7EE5" stroke-width="5.5" stroke-opacity="0.88"/>
<text x="3088.3" y="1841.8" font-size="21.5" fill="#111" textLength="98.2" lengthAdjust="spacing">30.5319B</text>
<rect x="3303.8" y="1957" width="108.3" height="46.2" rx="7.5" fill="#fff" stroke="#5B7EE5" stroke-width="5.5" stroke-opacity="0.88"/>
<text x="3315.3" y="1988" font-size="21.5" fill="#111" textLength="85.2" lengthAdjust="spacing">4.3539B</text>
<rect x="767.3" y="1934" width="108.3" height="46.2" rx="7.5" fill="#fff" stroke="#C28FE1" stroke-width="5.5" stroke-opacity="0.88"/>
<text x="778.9" y="1965" font-size="21.5" fill="#111" textLength="85.2" lengthAdjust="spacing">7.0946B</text>
<rect x="877.6" y="1935.2" width="108.3" height="46.2" rx="7.5" fill="#fff" stroke="#C28FE1" stroke-width="5.5" stroke-opacity="0.88"/>
<text x="889.2" y="1966.1" font-size="21.5" fill="#111" textLength="85.2" lengthAdjust="spacing">7.0305B</text>
<rect x="1098.2" y="1928.5" width="108.3" height="46.2" rx="7.5" fill="#fff" stroke="#C28FE1" stroke-width="5.5" stroke-opacity="0.88"/>
<text x="1109.7" y="1959.4" font-size="21.5" fill="#111" textLength="85.2" lengthAdjust="spacing">7.9192B</text>
<rect x="1208.4" y="1938.5" width="108.3" height="46.2" rx="7.5" fill="#fff" stroke="#C28FE1" stroke-width="5.5" stroke-opacity="0.88"/>
<text x="1220" y="1969.4" font-size="21.5" fill="#111" textLength="85.2" lengthAdjust="spacing">6.1295B</text>
<rect x="1318.7" y="1954" width="108.3" height="46.2" rx="7.5" fill="#fff" stroke="#C28FE1" stroke-width="5.5" stroke-opacity="0.88"/>
<text x="1330.3" y="1984.9" font-size="21.5" fill="#111" textLength="85.2" lengthAdjust="spacing">4.1019B</text>
<rect x="1429" y="1943.5" width="108.3" height="46.2" rx="7.5" fill="#fff" stroke="#C28FE1" stroke-width="5.5" stroke-opacity="0.88"/>
<text x="1440.6" y="1974.4" font-size="21.5" fill="#111" textLength="85.2" lengthAdjust="spacing">5.6803B</text>
<rect x="1656.1" y="1950" width="95.3" height="46.2" rx="7.5" fill="#fff" stroke="#C28FE1" stroke-width="5.5" stroke-opacity="0.88"/>
<text x="1667.6" y="1980.9" font-size="21.5" fill="#111" textLength="72.2" lengthAdjust="spacing">4.805B</text>
<rect x="1759.8" y="1946.5" width="108.3" height="46.2" rx="7.5" fill="#fff" stroke="#C28FE1" stroke-width="5.5" stroke-opacity="0.88"/>
<text x="1771.4" y="1977.4" font-size="21.5" fill="#111" textLength="85.2" lengthAdjust="spacing">5.5024B</text>
<rect x="1863.6" y="1893.5" width="121.3" height="46.2" rx="7.5" fill="#fff" stroke="#C28FE1" stroke-width="5.5" stroke-opacity="0.88"/>
<text x="1875.2" y="1924.4" font-size="21.5" fill="#111" textLength="98.2" lengthAdjust="spacing">14.1032B</text>
<rect x="2090.7" y="1921.2" width="108.3" height="46.2" rx="7.5" fill="#fff" stroke="#C28FE1" stroke-width="5.5" stroke-opacity="0.88"/>
<text x="2102.2" y="1952.2" font-size="21.5" fill="#111" textLength="85.2" lengthAdjust="spacing">9.7579B</text>
<rect x="2201" y="1935.5" width="108.3" height="46.2" rx="7.5" fill="#fff" stroke="#C28FE1" stroke-width="5.5" stroke-opacity="0.88"/>
<text x="2212.5" y="1966.4" font-size="21.5" fill="#111" textLength="85.2" lengthAdjust="spacing">7.6688B</text>
<rect x="2311.2" y="1930.5" width="108.3" height="46.2" rx="7.5" fill="#fff" stroke="#C28FE1" stroke-width="5.5" stroke-opacity="0.88"/>
<text x="2322.8" y="1961.4" font-size="21.5" fill="#111" textLength="85.2" lengthAdjust="spacing">8.6129B</text>
<rect x="2421.5" y="1943.5" width="108.3" height="46.2" rx="7.5" fill="#fff" stroke="#C28FE1" stroke-width="5.5" stroke-opacity="0.88"/>
<text x="2433.1" y="1974.4" font-size="21.5" fill="#111" textLength="85.2" lengthAdjust="spacing">6.7968B</text>
<rect x="2531.8" y="1941.5" width="108.3" height="46.2" rx="7.5" fill="#fff" stroke="#C28FE1" stroke-width="5.5" stroke-opacity="0.88"/>
<text x="2543.4" y="1972.4" font-size="21.5" fill="#111" textLength="85.2" lengthAdjust="spacing">6.2592B</text>
<rect x="2642.1" y="1949" width="108.3" height="46.2" rx="7.5" fill="#fff" stroke="#C28FE1" stroke-width="5.5" stroke-opacity="0.88"/>
<text x="2653.6" y="1979.9" font-size="21.5" fill="#111" textLength="85.2" lengthAdjust="spacing">5.2344B</text>
<rect x="2752.4" y="1940" width="108.3" height="46.2" rx="7.5" fill="#fff" stroke="#C28FE1" stroke-width="5.5" stroke-opacity="0.88"/>
<text x="2763.9" y="1970.9" font-size="21.5" fill="#111" textLength="85.2" lengthAdjust="spacing">6.0913B</text>
<rect x="2862.7" y="1940.5" width="108.3" height="46.2" rx="7.5" fill="#fff" stroke="#C28FE1" stroke-width="5.5" stroke-opacity="0.88"/>
<text x="2874.2" y="1971.4" font-size="21.5" fill="#111" textLength="85.2" lengthAdjust="spacing">5.7878B</text>
<rect x="2972.9" y="1947" width="108.3" height="46.2" rx="7.5" fill="#fff" stroke="#C28FE1" stroke-width="5.5" stroke-opacity="0.88"/>
<text x="2984.5" y="1977.9" font-size="21.5" fill="#111" textLength="85.2" lengthAdjust="spacing">5.2071B</text>
<rect x="3083.2" y="1917.5" width="108.3" height="46.2" rx="7.5" fill="#fff" stroke="#C28FE1" stroke-width="5.5" stroke-opacity="0.88"/>
<text x="3094.8" y="1948.4" font-size="21.5" fill="#111" textLength="85.2" lengthAdjust="spacing">9.8018B</text>
<rect x="1539.3" y="1960.5" width="108.3" height="46.2" rx="7.5" fill="#fff" stroke="#7CC3DF" stroke-width="5.5" stroke-opacity="0.88"/>
<text x="1550.8" y="1991.4" font-size="21.5" fill="#111" textLength="85.2" lengthAdjust="spacing">5.7977B</text>
<rect x="3200" y="1952.4" width="95.3" height="46.2" rx="7.5" fill="#fff" stroke="#7CC3DF" stroke-width="5.5" stroke-opacity="0.88"/>
<text x="3211.5" y="1983.3" font-size="21.5" fill="#111" textLength="72.2" lengthAdjust="spacing">8.087B</text>
</g>
<g id="wm"><text x="1253" y="1146" font-size="176" font-weight="bold" fill="#5a5a78" fill-opacity="0.068" textLength="1049" lengthAdjust="spacingAndGlyphs">CryptoQuant</text></g>
<clipPath id="lc0"><circle cx="1041.7" cy="220.3" r="152.8"/></clipPath>
<clipPath id="lc1"><circle cx="1926.4" cy="423.9" r="152.8"/></clipPath>
<clipPath id="lc2"><circle cx="3136.6" cy="730.0" r="105.8"/></clipPath>
</defs>
<rect width="3584" height="2184" fill="#fff"/>
<path d="M0,0 H12 A12,12 0 0 0 0,12 Z" fill="#000"/>
<use href="#chart"/>
<use href="#wm"/>
<line x1="3428" x2="3428" y1="146" y2="2027" stroke="#d4d3dd" stroke-width="4"/>
<text x="3458.5" y="364.3" font-size="23" fill="#111" textLength="58" lengthAdjust="spacing">480B</text>
<text x="3458.5" y="782" font-size="23" fill="#111" textLength="58" lengthAdjust="spacing">360B</text>
<text x="3458.5" y="1199.8" font-size="23" fill="#111" textLength="58" lengthAdjust="spacing">240B</text>
<text x="3458.5" y="1617.5" font-size="23" fill="#111" textLength="58" lengthAdjust="spacing">120B</text>
<text x="3458.5" y="2035.3" font-size="23" fill="#111" textLength="12.5" lengthAdjust="spacing">0</text>
<text transform="translate(164.3,2072.5) rotate(-45)" text-anchor="end" font-size="23" fill="#6f7078" textLength="97" lengthAdjust="spacing">2023-07</text>
<text transform="translate(274.6,2072.5) rotate(-45)" text-anchor="end" font-size="23" fill="#6f7078" textLength="97" lengthAdjust="spacing">2023-08</text>
<text transform="translate(384.9,2072.5) rotate(-45)" text-anchor="end" font-size="23" fill="#6f7078" textLength="97" lengthAdjust="spacing">2023-09</text>
<text transform="translate(495.1,2072.5) rotate(-45)" text-anchor="end" font-size="23" fill="#6f7078" textLength="97" lengthAdjust="spacing">2023-10</text>
<text transform="translate(605.4,2072.5) rotate(-45)" text-anchor="end" font-size="23" fill="#6f7078" textLength="97" lengthAdjust="spacing">2023-11</text>
<text transform="translate(715.7,2072.5) rotate(-45)" text-anchor="end" font-size="23" fill="#6f7078" textLength="97" lengthAdjust="spacing">2023-12</text>
<text transform="translate(826,2072.5) rotate(-45)" text-anchor="end" font-size="23" fill="#6f7078" textLength="97" lengthAdjust="spacing">2024-01</text>
<text transform="translate(936.3,2072.5) rotate(-45)" text-anchor="end" font-size="23" fill="#6f7078" textLength="97" lengthAdjust="spacing">2024-02</text>
<text transform="translate(1046.5,2072.5) rotate(-45)" text-anchor="end" font-size="23" fill="#6f7078" textLength="97" lengthAdjust="spacing">2024-03</text>
<text transform="translate(1156.8,2072.5) rotate(-45)" text-anchor="end" font-size="23" fill="#6f7078" textLength="97" lengthAdjust="spacing">2024-04</text>
<text transform="translate(1267.1,2072.5) rotate(-45)" text-anchor="end" font-size="23" fill="#6f7078" textLength="97" lengthAdjust="spacing">2024-05</text>
<text transform="translate(1377.4,2072.5) rotate(-45)" text-anchor="end" font-size="23" fill="#6f7078" textLength="97" lengthAdjust="spacing">2024-06</text>
<text transform="translate(1487.7,2072.5) rotate(-45)" text-anchor="end" font-size="23" fill="#6f7078" textLength="97" lengthAdjust="spacing">2024-07</text>
<text transform="translate(1597.9,2072.5) rotate(-45)" text-anchor="end" font-size="23" fill="#6f7078" textLength="97" lengthAdjust="spacing">2024-08</text>
<text transform="translate(1708.2,2072.5) rotate(-45)" text-anchor="end" font-size="23" fill="#6f7078" textLength="97" lengthAdjust="spacing">2024-09</text>
<text transform="translate(1818.5,2072.5) rotate(-45)" text-anchor="end" font-size="23" fill="#6f7078" textLength="97" lengthAdjust="spacing">2024-10</text>
<text transform="translate(1928.8,2072.5) rotate(-45)" text-anchor="end" font-size="23" fill="#6f7078" textLength="97" lengthAdjust="spacing">2024-11</text>
<text transform="translate(2039.1,2072.5) rotate(-45)" text-anchor="end" font-size="23" fill="#6f7078" textLength="97" lengthAdjust="spacing">2024-12</text>
<text transform="translate(2149.3,2072.5) rotate(-45)" text-anchor="end" font-size="23" fill="#6f7078" textLength="97" lengthAdjust="spacing">2025-01</text>
<text transform="translate(2259.6,2072.5) rotate(-45)" text-anchor="end" font-size="23" fill="#6f7078" textLength="97" lengthAdjust="spacing">2025-02</text>
<text transform="translate(2369.9,2072.5) rotate(-45)" text-anchor="end" font-size="23" fill="#6f7078" textLength="97" lengthAdjust="spacing">2025-03</text>
<text transform="translate(2480.2,2072.5) rotate(-45)" text-anchor="end" font-size="23" fill="#6f7078" textLength="97" lengthAdjust="spacing">2025-04</text>
<text transform="translate(2590.5,2072.5) rotate(-45)" text-anchor="end" font-size="23" fill="#6f7078" textLength="97" lengthAdjust="spacing">2025-05</text>
<text transform="translate(2700.7,2072.5) rotate(-45)" text-anchor="end" font-size="23" fill="#6f7078" textLength="97" lengthAdjust="spacing">2025-06</text>
<text transform="translate(2811,2072.5) rotate(-45)" text-anchor="end" font-size="23" fill="#6f7078" textLength="97" lengthAdjust="spacing">2025-07</text>
<text transform="translate(2921.3,2072.5) rotate(-45)" text-anchor="end" font-size="23" fill="#6f7078" textLength="97" lengthAdjust="spacing">2025-08</text>
<text transform="translate(3031.6,2072.5) rotate(-45)" text-anchor="end" font-size="23" fill="#6f7078" textLength="97" lengthAdjust="spacing">2025-09</text>
<text transform="translate(3141.9,2072.5) rotate(-45)" text-anchor="end" font-size="23" fill="#6f7078" textLength="97" lengthAdjust="spacing">2025-10</text>
<text transform="translate(3252.1,2072.5) rotate(-45)" text-anchor="end" font-size="23" fill="#6f7078" textLength="97" lengthAdjust="spacing">2025-11</text>
<text transform="translate(3362.4,2072.5) rotate(-45)" text-anchor="end" font-size="23" fill="#6f7078" textLength="97" lengthAdjust="spacing">2025-12</text>
<circle cx="1262" cy="80" r="12" fill="#EDCB73"/>
<text x="1296" y="89" font-size="23" fill="#111" textLength="81" lengthAdjust="spacing">binance</text>
<circle cx="1442" cy="80" r="12" fill="#141414"/>
<text x="1476" y="89" font-size="23" fill="#111" textLength="63" lengthAdjust="spacing">gateio</text>
<circle cx="1604" cy="80" r="12" fill="#EEC3A0"/>
<text x="1638" y="89" font-size="23" fill="#111" textLength="50.5" lengthAdjust="spacing">bybit</text>
<circle cx="1754" cy="80" r="12" fill="#E9A7C9"/>
<text x="1788" y="89" font-size="23" fill="#111" textLength="48" lengthAdjust="spacing">okex</text>
<circle cx="1901" cy="80" r="12" fill="#6284E6"/>
<text x="1935.5" y="89" font-size="23" fill="#111" textLength="93" lengthAdjust="spacing">coinbase</text>
<circle cx="2093" cy="80" r="12" fill="#C595E2"/>
<text x="2127" y="89" font-size="23" fill="#111" textLength="68.6" lengthAdjust="spacing">kraken</text>
<circle cx="2260" cy="80" r="12" fill="#86C8E4"/>
<text x="2294.5" y="89" font-size="23" fill="#111" textLength="52" lengthAdjust="spacing">upbit</text>
<rect x="3251.5" y="163.3" width="161" height="47.5" rx="4.5" fill="#fff" stroke="#d9d7f6" stroke-width="2"/>
<text x="3266" y="198" font-size="24.5" fill="#6d6d72" textLength="128.5" lengthAdjust="spacing">Reset zoom</text>
<rect x="2912.5" y="358.5" width="301.5" height="287.5" rx="6" fill="#fff" fill-opacity="0.96" stroke="#e3e3e8" stroke-width="1.8"/>
<text x="2929.5" y="397.5" font-size="23.5" font-weight="bold" fill="#111" textLength="104" lengthAdjust="spacing">2025-11</text>
<circle cx="2938.8" cy="421.5" r="9" fill="#EDCB73"/>
<text x="2957.5" y="429.7" font-size="23.5" font-weight="bold" fill="#111" textLength="93.5" lengthAdjust="spacing">binance</text>
<text x="3070.5" y="429.7" font-size="23.5" fill="#111" textLength="125.5" lengthAdjust="spacing">156.4547B</text>
<path d="M2940,444.1 l9.4,9.4 l-9.4,9.4 l-9.4,-9.4 Z" fill="#141414"/>
<text x="2960" y="461.7" font-size="23.5" font-weight="bold" fill="#111" textLength="74" lengthAdjust="spacing">gateio</text>
<text x="3070.5" y="461.7" font-size="23.5" fill="#111" textLength="110.5" lengthAdjust="spacing">35.9117B</text>
<rect x="2930.5" y="477" width="17" height="17" rx="2" fill="#EEC3A0"/>
<text x="2957.5" y="493.7" font-size="23.5" font-weight="bold" fill="#111" textLength="59.5" lengthAdjust="spacing">bybit</text>
<text x="3070.5" y="493.7" font-size="23.5" fill="#111" textLength="110.5" lengthAdjust="spacing">35.6762B</text>
<path d="M2937.3,510.5 l7.3,14.5 h-14.6 Z" fill="#E9A7C9"/>
<text x="2953.5" y="525.7" font-size="23.5" font-weight="bold" fill="#111" textLength="55" lengthAdjust="spacing">okex</text>
<text x="3070.5" y="525.7" font-size="23.5" fill="#111" textLength="110.5" lengthAdjust="spacing">26.6449B</text>
<path d="M2930,542.5 h14.6 l-7.3,14.5 Z" fill="#6284E6"/>
<text x="2953.5" y="557.7" font-size="23.5" font-weight="bold" fill="#111" textLength="107" lengthAdjust="spacing">coinbase</text>
<text x="3070.5" y="557.7" font-size="23.5" fill="#111" textLength="95.5" lengthAdjust="spacing">31.507B</text>
<circle cx="2938.8" cy="581.5" r="9" fill="#C595E2"/>
<text x="2957.5" y="589.7" font-size="23.5" font-weight="bold" fill="#111" textLength="80.3" lengthAdjust="spacing">kraken</text>
<text x="3070.5" y="589.7" font-size="23.5" fill="#111" textLength="110.5" lengthAdjust="spacing">10.0096B</text>
<path d="M2940,604.1 l9.4,9.4 l-9.4,9.4 l-9.4,-9.4 Z" fill="#86C8E4"/>
<text x="2960" y="621.7" font-size="23.5" font-weight="bold" fill="#111" textLength="61" lengthAdjust="spacing">upbit</text>
<text x="3070.5" y="621.7" font-size="23.5" fill="#111" textLength="80.2" lengthAdjust="spacing">8.087B</text>
<g clip-path="url(#lc0)"><rect x="886.9000000000001" y="65.5" width="309.6" height="309.6" fill="#fff"/><g transform="translate(1041.7,220.3) scale(2.0) translate(-1041.7,-220.3)"><use href="#chart"/><use href="#wm"/></g></g>
<circle cx="1041.7" cy="220.3" r="152.8" fill="none" stroke="#838383" stroke-width="2.7"/>
<g clip-path="url(#lc1)"><rect x="1771.6000000000001" y="269.09999999999997" width="309.6" height="309.6" fill="#fff"/><g transform="translate(1926.4,423.9) scale(2.0) translate(-1926.4,-423.9)"><use href="#chart"/><use href="#wm"/></g></g>
<circle cx="1926.4" cy="423.9" r="152.8" fill="none" stroke="#838383" stroke-width="2.7"/>
<g clip-path="url(#lc2)"><rect x="3028.7999999999997" y="622.2" width="215.6" height="215.6" fill="#fff"/><g transform="translate(3136.6,730.0) scale(1.5) translate(-3136.6,-730.0)"><use href="#chart"/><use href="#wm"/></g></g>
<circle cx="3136.6" cy="730.0" r="105.8" fill="none" stroke="#838383" stroke-width="2.7"/>
<line x1="1206.2" y1="219.8" x2="1761" y2="405.5" stroke="#000" stroke-width="3.5" stroke-dasharray="14 11.1"/>
<line x1="2076.5" y1="488.7" x2="3020" y2="717.7" stroke="#000" stroke-width="3.5" stroke-dasharray="14 11.1"/>
</svg></body></html>
